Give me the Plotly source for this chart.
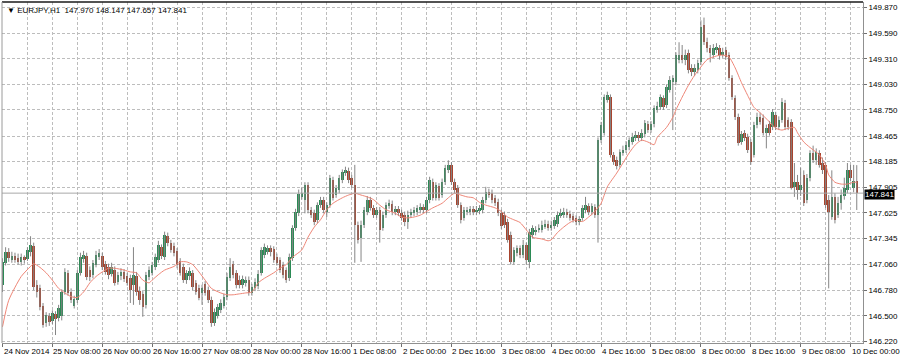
import plotly.graph_objects as go

# ---- data (EURJPY H1, bar 0 = 24 Nov 2014 16:00) ----
opens = [146.84,147.08,147.20,147.11,147.15,147.13,147.09,147.14,147.12,147.20,
147.26,146.84,146.80,146.61,146.42,146.50,146.44,146.52,146.48,146.50,
146.76,146.97,146.76,146.61,146.67,146.97,147.12,147.15,147.00,146.95,
147.06,147.14,147.15,147.07,147.03,146.96,147.00,146.87,146.94,146.98,
146.94,146.91,146.84,146.94,146.77,146.74,146.62,146.92,146.97,147.03,
147.11,147.25,147.14,147.37,147.30,147.26,147.21,147.10,147.03,146.89,
146.94,146.97,146.86,146.80,146.75,146.85,146.78,146.67,146.42,146.50,
146.56,146.61,146.71,146.91,147.07,146.97,146.89,146.84,146.86,146.89,
146.75,146.80,146.83,146.97,147.16,147.20,147.24,147.23,147.14,147.11,
147.06,147.00,146.91,147.13,147.46,147.62,147.80,147.77,147.93,147.66,
147.62,147.55,147.71,147.77,147.64,147.71,147.98,147.82,147.88,147.98,
148.06,148.08,148.01,147.93,147.49,147.35,147.49,147.64,147.77,147.68,
147.60,147.66,147.46,147.60,147.70,147.72,147.64,147.67,147.62,147.60,
147.53,147.60,147.62,147.64,147.66,147.69,147.66,147.77,147.96,147.79,
147.92,147.82,147.96,148.09,148.15,147.96,147.90,147.71,147.57,147.64,
147.64,147.67,147.64,147.65,147.66,147.77,147.85,147.84,147.79,147.74,
147.62,147.60,147.53,147.38,147.09,147.19,147.24,147.16,147.27,147.09,
147.38,147.42,147.44,147.44,147.48,147.50,147.46,147.48,147.50,147.60,
147.60,147.64,147.61,147.59,147.57,147.53,147.57,147.66,147.70,147.64,
147.69,147.60,148.42,148.50,148.86,148.89,148.26,148.20,148.15,148.28,
148.31,148.35,148.40,148.44,148.48,148.44,148.49,148.60,148.53,148.60,
148.75,148.78,148.88,148.80,148.97,149.06,149.06,149.30,149.35,149.30,
149.37,149.21,149.17,149.19,149.27,149.68,149.49,149.43,149.35,149.41,
149.43,149.35,149.41,149.35,149.10,148.88,148.67,148.40,148.50,148.45,
148.40,148.26,148.59,148.67,148.66,148.50,148.60,148.56,148.70,148.56,
148.64,148.83,148.64,148.62,147.91,147.96,147.88,148.04,147.77,148.01,
148.28,148.20,148.28,148.17,148.15,147.77,147.58,147.80,147.60,147.73,
147.81,147.88,148.09,147.90,147.970]

highs = [147.13,147.25,147.24,147.20,147.19,147.18,147.18,147.16,147.25,147.37,
147.30,146.89,146.84,146.64,146.54,146.53,146.56,146.55,146.62,146.79,
147.02,147.00,146.80,146.72,147.00,147.19,147.21,147.19,147.04,147.11,
147.21,147.23,147.19,147.10,147.07,147.08,147.04,146.98,147.02,147.01,
146.97,146.95,147.25,146.98,146.82,146.77,146.98,147.04,147.09,147.18,
147.32,147.28,147.42,147.41,147.33,147.30,147.24,147.13,147.07,147.00,
147.03,147.00,146.89,146.84,146.84,146.88,146.82,146.71,146.58,146.63,
146.68,146.74,146.97,147.13,147.10,147.00,146.94,146.94,146.93,146.93,
146.85,146.91,147.00,147.25,147.29,147.27,147.27,147.26,147.18,147.14,
147.09,147.03,147.18,147.49,147.67,147.88,147.90,147.96,147.96,147.69,
147.66,147.74,147.80,147.80,147.74,148.04,148.02,147.93,148.04,148.10,
148.13,148.12,148.04,148.15,147.53,147.54,147.69,147.81,147.80,147.71,
147.69,147.69,147.64,147.74,147.77,147.76,147.70,147.70,147.66,147.64,
147.65,147.67,147.69,147.71,147.73,147.72,147.80,148.02,148.00,147.96,
147.95,148.00,148.15,148.20,148.18,148.00,147.93,147.74,147.69,147.69,
147.70,147.70,147.70,147.71,147.80,147.91,147.89,147.88,147.82,147.78,
147.66,147.64,147.56,147.42,147.25,147.27,147.27,147.33,147.30,147.45,
147.49,147.48,147.50,147.54,147.55,147.54,147.54,147.58,147.64,147.67,
147.68,147.67,147.65,147.62,147.60,147.59,147.71,147.80,147.73,147.73,
147.72,148.45,148.62,148.92,148.95,148.92,148.29,148.24,148.32,148.36,
148.41,148.45,148.50,148.52,148.51,148.54,148.64,148.63,148.63,148.80,
148.84,148.92,148.91,149.03,149.12,149.13,149.38,149.49,149.46,149.41,
149.41,149.25,149.25,149.30,149.73,149.76,149.54,149.46,149.47,149.48,
149.46,149.43,149.44,149.38,149.13,148.91,148.71,148.52,148.53,148.49,
148.43,148.62,148.72,148.72,148.70,148.59,148.63,148.76,148.73,148.68,
148.88,148.86,148.67,148.65,148.17,148.04,148.12,148.09,148.05,148.31,
148.36,148.33,148.31,148.23,148.18,147.82,148.09,147.84,147.80,147.88,
148.01,148.17,148.15,148.15,148.147]

lows = [146.76,147.05,147.09,147.08,147.08,147.06,147.05,147.07,147.10,147.15,
146.78,146.70,146.56,146.37,146.38,146.39,146.41,146.29,146.44,146.45,
146.73,146.72,146.64,146.58,146.64,146.94,147.08,146.89,146.88,146.91,
147.03,147.11,147.00,146.95,146.90,146.93,146.83,146.84,146.89,146.87,
146.83,146.64,146.62,146.72,146.62,146.49,146.58,146.89,146.94,147.00,
147.08,147.12,147.11,147.26,147.19,147.15,147.02,146.94,146.86,146.85,
146.89,146.78,146.73,146.67,146.62,146.72,146.64,146.38,146.39,146.47,
146.53,146.58,146.67,146.88,146.91,146.80,146.80,146.80,146.82,146.72,
146.72,146.77,146.79,146.94,147.13,147.17,147.15,147.08,147.05,146.97,
146.91,146.86,146.88,147.10,147.43,147.59,147.77,147.62,147.62,147.57,
147.49,147.51,147.68,147.62,147.58,147.68,147.76,147.79,147.84,147.95,
148.03,147.95,147.90,147.08,147.29,147.09,147.46,147.60,147.65,147.57,
147.57,147.30,147.43,147.57,147.67,147.60,147.60,147.59,147.54,147.48,
147.45,147.57,147.59,147.60,147.62,147.62,147.62,147.73,147.76,147.76,
147.76,147.79,147.93,148.06,147.93,147.84,147.68,147.51,147.54,147.60,
147.60,147.60,147.60,147.61,147.62,147.73,147.79,147.73,147.70,147.59,
147.45,147.46,147.30,147.06,147.06,147.15,147.13,147.13,147.06,147.02,
147.35,147.38,147.41,147.41,147.45,147.43,147.43,147.45,147.47,147.57,
147.57,147.57,147.54,147.52,147.49,147.49,147.54,147.62,147.60,147.60,
147.57,147.30,148.39,148.47,148.83,148.23,148.15,148.10,148.12,148.25,
148.28,148.31,148.37,148.41,148.41,148.41,148.45,148.50,148.50,148.56,
148.72,148.75,148.75,148.77,148.94,148.53,149.02,149.26,149.26,149.24,
149.15,149.12,149.12,149.15,149.24,149.46,149.38,149.27,149.32,149.37,
149.30,149.32,149.30,149.07,148.86,148.64,148.36,148.37,148.41,148.28,
148.15,148.23,148.55,148.59,148.47,148.33,148.47,148.53,148.53,148.53,
148.61,148.53,148.53,147.88,147.80,147.77,147.81,147.70,147.73,147.97,
148.17,148.15,148.12,148.05,147.68,146.80,147.55,147.51,147.57,147.66,
147.77,147.84,147.97,147.85,147.657]

closes = [147.09,147.20,147.13,147.15,147.11,147.09,147.14,147.11,147.22,147.27,
146.81,146.76,146.60,146.40,146.51,146.43,146.53,146.46,146.59,146.76,
146.98,146.75,146.67,146.68,146.97,147.14,147.16,146.92,146.92,147.08,
147.16,147.19,147.03,146.98,146.95,147.03,146.86,146.95,146.98,146.90,
146.86,146.78,146.95,146.76,146.67,146.60,146.95,147.00,147.06,147.14,
147.27,147.15,147.38,147.30,147.22,147.19,147.06,146.97,146.89,146.97,
146.99,146.81,146.76,146.70,146.80,146.75,146.67,146.42,146.54,146.60,
146.64,146.71,146.92,147.03,146.95,146.84,146.84,146.90,146.89,146.75,
146.81,146.87,146.96,147.22,147.25,147.24,147.20,147.11,147.08,147.00,
146.95,146.89,147.14,147.46,147.64,147.83,147.84,147.93,147.66,147.60,
147.53,147.71,147.77,147.66,147.71,148.01,147.79,147.90,148.01,148.07,
148.09,147.98,147.93,147.49,147.33,147.49,147.66,147.77,147.68,147.60,
147.66,147.44,147.60,147.71,147.73,147.64,147.67,147.62,147.57,147.53,
147.60,147.64,147.66,147.68,147.69,147.66,147.77,147.98,147.79,147.93,
147.79,147.96,148.12,148.15,147.96,147.88,147.71,147.55,147.66,147.66,
147.67,147.64,147.66,147.68,147.77,147.85,147.82,147.77,147.73,147.62,
147.48,147.49,147.33,147.09,147.22,147.24,147.16,147.27,147.11,147.42,
147.46,147.44,147.46,147.49,147.50,147.46,147.49,147.55,147.60,147.62,
147.64,147.60,147.57,147.55,147.53,147.56,147.68,147.71,147.64,147.70,
147.60,148.42,148.59,148.89,148.91,148.26,148.18,148.14,148.29,148.31,
148.37,148.42,148.45,148.48,148.44,148.50,148.61,148.53,148.60,148.77,
148.79,148.89,148.78,149.00,149.08,149.10,149.35,149.35,149.30,149.35,
149.19,149.17,149.21,149.26,149.66,149.49,149.43,149.37,149.43,149.44,
149.35,149.38,149.33,149.10,148.89,148.67,148.39,148.49,148.44,148.31,
148.18,148.59,148.67,148.62,148.50,148.55,148.50,148.73,148.56,148.64,
148.84,148.56,148.56,147.90,147.96,147.88,147.93,147.73,148.01,148.28,
148.20,148.29,148.15,148.09,147.71,147.64,147.80,147.55,147.73,147.82,
147.90,148.09,148.01,147.97,147.841]

ma_bar = [0,2,6,9,10,12,14,16,18,20,22,24,26,28,30,32,34,36,39,41,43,45,47,48,50,52,55,57,59,61,
63,65,67,70,72,74,76,78,80,82,84,87,89,91,93,96,98,100,102,104,106,109,111,113,115,117,119,121,123,126,
128,130,132,134,136,138,141,143,145,147,149,151,153,155,158,160,162,164,166,168,170,173,175,176,178,180,182,184,186,188,
190,192,194,197,199,201,203,205,207,209,210,213,215,216,218,220,222,224,226,229,231,233,235,237,239,241,243,246,248,250,
252,254,255,257,259,262,264,265,267,269,271,273,274]
ma_val = [146.38,146.67,146.93,147.04,147.07,147.03,146.97,146.89,146.80,146.75,146.71,146.70,146.76,146.86,146.93,146.98,147.02,147.02,147.00,146.98,
146.97,146.89,146.86,146.89,146.95,147.00,147.04,147.09,147.09,147.06,146.98,146.89,146.80,146.75,146.73,146.73,146.74,146.75,146.76,146.86,
146.91,146.97,147.02,147.06,147.14,147.22,147.36,147.47,147.55,147.66,147.73,147.79,147.82,147.84,147.82,147.80,147.77,147.71,147.66,147.62,
147.58,147.57,147.58,147.60,147.64,147.68,147.73,147.79,147.84,147.82,147.80,147.79,147.74,147.71,147.68,147.64,147.58,147.55,147.52,147.44,
147.36,147.34,147.32,147.33,147.41,147.47,147.52,147.55,147.53,147.58,147.64,147.73,147.91,148.06,148.17,148.28,148.37,148.42,148.40,148.37,
148.45,148.56,148.67,148.75,148.89,149.02,149.13,149.22,149.30,149.34,149.35,149.33,149.21,149.05,148.91,148.78,148.72,148.62,148.55,148.53,
148.55,148.56,148.50,148.40,148.34,148.26,148.15,148.04,147.96,147.94,147.94,147.96,147.96]

x_tick_bars = [0,16,32,48,64,80,96,112,128,144,160,176,192,208,224,240,256,272]
x_tick_labels = ["24 Nov 2014","25 Nov 08:00","26 Nov 00:00","26 Nov 16:00","27 Nov 08:00",
                 "28 Nov 00:00","28 Nov 16:00","1 Dec 08:00","2 Dec 00:00","2 Dec 16:00",
                 "3 Dec 08:00","4 Dec 00:00","4 Dec 16:00","5 Dec 08:00","8 Dec 00:00",
                 "8 Dec 16:00","9 Dec 08:00","10 Dec 00:00"]
y_ticks = [149.870,149.590,149.310,149.030,148.750,148.465,148.185,147.905,
           147.625,147.345,147.060,146.780,146.500,146.220]
symbol = "EURJPY,H1"
last_price = 147.841

# ---- build figure ----
n = len(closes)
idx = list(range(n))
BULL = "#2b8a55"
BEAR = "#a8432d"
WICK = "#858585"
GRID = "#bdbdbd"
FONT = "Liberation Sans"

wx, wy = [], []
for i in idx:
    wx += [i, i, None]
    wy += [lows[i], highs[i], None]

body_base = [min(o, c) for o, c in zip(opens, closes)]
body_h = [max(abs(c - o), 0.011) for o, c in zip(opens, closes)]
body_col = [BULL if c >= o else BEAR for o, c in zip(opens, closes)]

fig = go.Figure()
fig.add_trace(go.Scatter(x=wx, y=wy, mode="lines", line=dict(color=WICK, width=1),
                         hoverinfo="skip", showlegend=False))
fig.add_trace(go.Bar(x=idx, y=body_h, base=body_base, width=0.8,
                     marker=dict(color=body_col, line=dict(width=0)),
                     showlegend=False))
fig.add_trace(go.Scatter(x=ma_bar, y=ma_val, mode="lines",
                         line=dict(color="#ee8677", width=1, shape="spline", smoothing=0.6),
                         hoverinfo="skip", showlegend=False))

fig.add_shape(type="line", xref="paper", x0=0, x1=1, yref="y", y0=last_price, y1=last_price,
              line=dict(color="#a8a8a8", width=1))
fig.add_shape(type="line", xref="paper", x0=0, x1=1, yref="paper", y0=1, y1=1,
              line=dict(color="#1a1a1a", width=1.5))
fig.add_shape(type="line", xref="paper", x0=0, x1=0, yref="paper", y0=0, y1=1,
              line=dict(color="#9a9a9a", width=1))

for b, t in zip(x_tick_bars, x_tick_labels):
    fig.add_annotation(x=b, xref="x", y=0, yref="paper", text=t, showarrow=False,
                       xanchor="left", yanchor="top", xshift=-1, yshift=-2,
                       font=dict(family=FONT, size=8, color="#000000"))

fig.add_annotation(x=0, xref="paper", y=1, yref="paper",
                   text="\u25BC " + symbol + "&nbsp; 147.970 148.147 147.657 147.841",
                   showarrow=False, xanchor="left", yanchor="top", xshift=3, yshift=-2,
                   font=dict(family=FONT, size=8, color="#000000"))

fig.add_annotation(x=1, xref="paper", y=last_price, yref="y", text=f"{last_price:.3f}",
                   showarrow=False, xanchor="left", yanchor="middle", xshift=1, yshift=-1,
                   bgcolor="#000000", borderpad=0,
                   font=dict(family=FONT, size=8, color="#ffffff"))

fig.update_layout(
    width=900, height=359,
    margin=dict(l=2, r=35, t=2, b=16),
    paper_bgcolor="white", plot_bgcolor="white",
    bargap=0, showlegend=False,
    xaxis=dict(range=[-0.16, 276], tickvals=x_tick_bars, showticklabels=False,
               ticks="outside", ticklen=3, tickcolor="#707070",
               showgrid=True, gridcolor=GRID, griddash="3px,2px", gridwidth=1,
               minor=dict(tickvals=[b + 8 for b in x_tick_bars], showgrid=True,
                          gridcolor=GRID, griddash="3px,2px", ticks=""),
               showline=True, linecolor="#909090", zeroline=False),
    yaxis=dict(side="right", range=[146.203, 149.930], tickvals=y_ticks,
               ticktext=[f"{v:.3f}" for v in y_ticks],
               ticks="outside", ticklen=3, tickcolor="#707070",
               tickfont=dict(family=FONT, size=8, color="#000000"),
               showgrid=True, gridcolor=GRID, griddash="3px,2px", gridwidth=1,
               showline=True, linecolor="#909090", zeroline=False),
)

fig.write_html("out.html")
